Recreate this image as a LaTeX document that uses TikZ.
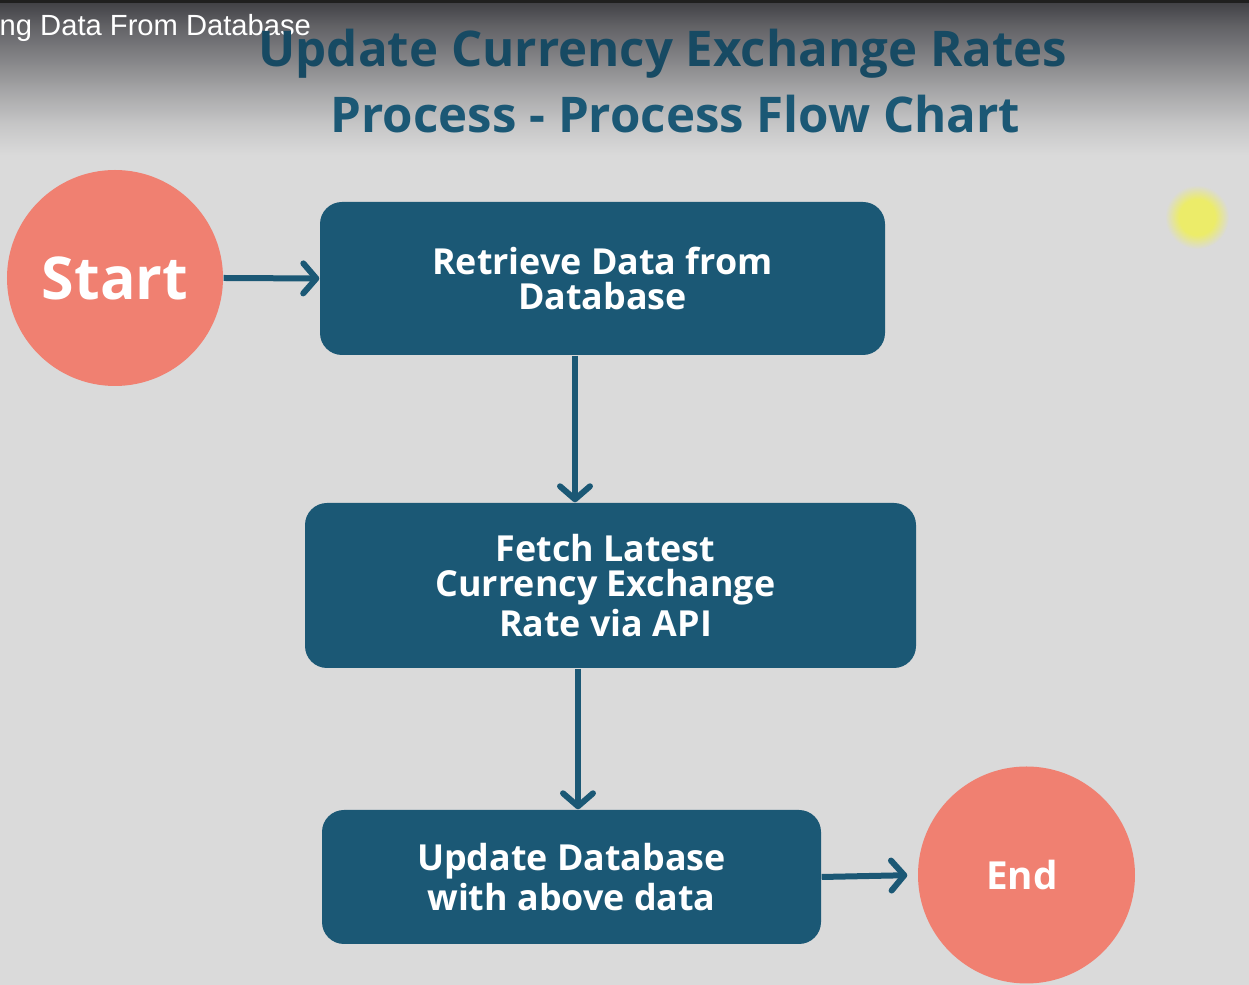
\documentclass[tikz,border=0pt]{standalone}
\usepackage{fontspec}
\setmainfont{Open Sans}
\newfontfamily\overlayfont{Liberation Sans}
\usetikzlibrary{arrows.meta}
\definecolor{bggray}{RGB}{218,218,218}
\definecolor{bandtop}{RGB}{62,62,67}
\definecolor{boxblue}{RGB}{27,88,117}
\definecolor{titledark}{RGB}{23,74,99}
\definecolor{salmon}{RGB}{240,128,113}
\definecolor{cursoryellow}{RGB}{236,236,105}
\pgfdeclareverticalshading{topband}{100bp}{color(0bp)=(bggray); color(25bp)=(bggray); color(35bp)=(bggray!87!bandtop); color(45bp)=(bggray!68!bandtop); color(55bp)=(bggray!47!bandtop); color(67bp)=(bggray!22!bandtop); color(75bp)=(bandtop); color(100bp)=(bandtop)}
\pgfdeclareradialshading{cursordot}{\pgfpoint{0bp}{0bp}}{color(0bp)=(cursoryellow); color(14bp)=(cursoryellow); color(25bp)=(bggray); color(50bp)=(bggray)}

\begin{document}
\begin{tikzpicture}[
        procbox/.style={rectangle, rounded corners=0.22cm, fill=boxblue, text=white, align=center,
                        font=\bfseries\fontsize{10.2}{9.9}\selectfont, inner sep=0pt},
        termcircle/.style={circle, fill=salmon, text=white, inner sep=0pt, minimum size=2.16cm},
        flow/.style={line width=0.06cm, draw=boxblue, -{Straight Barb[round,length=0.13cm,width=0.3cm]}},
        headline/.style={anchor=base, text=boxblue, font=\bfseries\fontsize{14}{18.8}\selectfont, inner sep=0pt}
    ]
    	        % Background
    	        \useasboundingbox (0,0) rectangle (12.49,-9.85);
    	        \fill[bggray] (0,0) rectangle (12.49,-9.85);
    	        % Dark band of the player on top
    	        \shade[shading=topband] (0,0) rectangle (12.49,-1.55);
    	        \fill[black!88] (0,0) rectangle (12.49,-0.03);
    	        \node[anchor=base west, inner sep=0pt, text=white, font=\overlayfont\fontsize{8.3}{10}\selectfont] (clip) at (-0.01,-0.36) {ng Data From Database};
    	        % Title
    	        \node[headline, text=titledark] (title1) at (6.63,-0.67) {Update Currency Exchange Rates};
    	        \node[headline] (title2) at (6.755,-1.33) {Process - Process Flow Chart};
    	        % Cursor
    	        \shade[shading=cursordot] (11.97,-2.17) circle (0.32);
    	        % Start and End
    	        \node[termcircle, font=\bfseries\fontsize{16.8}{20}\selectfont] (start) at (1.15,-2.78) {Start};
    	        \node[termcircle, minimum size=2.17cm, font=\bfseries\fontsize{11}{13}\selectfont] (end) at (10.265,-8.75) {\raisebox{-0.03cm}{End}\hspace*{0.09cm}};
    	        % Steps
    	        \node[procbox, minimum width=5.65cm, minimum height=1.53cm] (retrieve) at (6.025,-2.785) {Retrieve Data from\\Database};
    	        \node[procbox, minimum width=6.11cm, minimum height=1.65cm] (fetch) at (6.105,-5.855) {\hspace*{-0.1cm}Fetch Latest\\\hspace*{-0.1cm}Currency Exchange\\\hspace*{-0.1cm}Rate via API};
    	        \node[procbox, minimum width=4.99cm, minimum height=1.34cm] (update) at (5.715,-8.77) {Update Database\\with above data};
    	        % Arrows
    	        \coordinate (down1) at ([xshift=-0.275cm]retrieve.south);
    	        \coordinate (down2) at ([xshift=-0.325cm]fetch.south);
    	        \draw[flow] (start.east) -- (retrieve.west);
    	        \draw[flow] (down1) -- (down1 |- fetch.north);
    	        \draw[flow] (down2) -- (down2 |- update.north);
    	        \draw[flow, shorten >=0.1cm] (update.east) -- (end.west);
    	    \end{tikzpicture}
\end{document}
